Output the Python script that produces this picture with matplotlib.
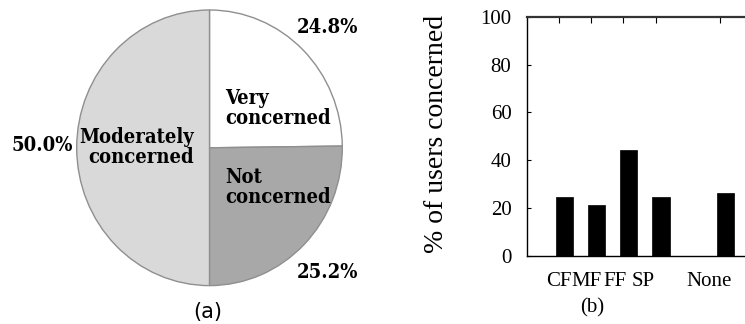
import matplotlib
matplotlib.use("Agg")
import matplotlib.pyplot as plt

# (a) concern level shares
concern_labels = ["Very\nconcerned", "Not\nconcerned", "Moderately\nconcerned"]
concern_shares = [24.8, 25.2, 50.0]
concern_colors = ["#ffffff", "#a8a8a8", "#d9d9d9"]

# (b) percentage of users concerned per category
categories = ["CF", "MF", "FF", "SP", "None"]
concerned_pct = [24.5, 21.3, 44.1, 24.5, 26.2]
category_pos = [0, 1, 2, 3, 5]

W, H = 745, 324
fig = plt.figure(figsize=(W / 100, H / 100), dpi=100)

# ---------- pie ----------
cx, cy, rx, ry = 209.5, 147.8, 132.8, 137.8
axp = fig.add_axes([(cx - rx) / W, (H - cy - ry) / H, 2 * rx / W, 2 * ry / H])
axp.pie(concern_shares, colors=concern_colors, startangle=90, counterclock=False,
        wedgeprops=dict(edgecolor="#8f8f8f", linewidth=1.0))
axp.set_aspect("auto")
axp.set_xlim(-1, 1)
axp.set_ylim(-1, 1)
axp.set_axis_off()

pie_font = dict(family="DejaVu Serif", weight="bold", stretch="condensed",
                fontsize=14.5)
axp.text(0.117, 0.289, concern_labels[0], ha="left", va="center",
         multialignment="left", linespacing=1.05, **pie_font)
axp.text(0.117, -0.284, concern_labels[1], ha="left", va="center",
         multialignment="left", linespacing=1.05, **pie_font)
axp.text(-0.114, 0.006, concern_labels[2], ha="right", va="center",
         multialignment="right", linespacing=1.05, **pie_font)

pct_pos = [(0.892, 0.879), (0.885, -0.899), (-1.257, 0.02)]
for (px, py), share in zip(pct_pos, concern_shares):
    axp.text(px, py, f"{share:.1f}%", ha="center", va="center",
             clip_on=False, **pie_font)

fig.text(208 / W, 1 - 312 / H, "(a)", ha="center", va="center",
         family="DejaVu Sans", fontsize=15)

# ---------- bars ----------
serif = "Liberation Serif"
left_px, right_px = 526.7, 752.1
bottom_px, top_px = 256.0, 16.7
axb = fig.add_axes([left_px / W, (H - bottom_px) / H,
                    (right_px - left_px) / W, (bottom_px - top_px) / H])
bar_offset = 0.165
axb.bar([p + bar_offset for p in category_pos], concerned_pct, width=0.54,
        color="black", edgecolor="black", linewidth=0.5)
axb.set_xlim(-1, 6)
axb.set_ylim(0, 100)

for side in ["top", "bottom", "left", "right"]:
    axb.spines[side].set_color("black")
    axb.spines[side].set_linewidth(1.0)
axb.spines["top"].set_linewidth(1.6)
axb.spines["top"].set_color("#333333")

axb.set_yticks([0, 20, 40, 60, 80, 100])
axb.tick_params(axis="y", direction="in", length=3, width=0.8, pad=11,
                labelsize=15)
for lab in axb.get_yticklabels():
    lab.set_family(serif)

# category ticks: marks on the top edge, labels below the bars
axb.set_xticks(category_pos)
axb.set_xticklabels([])
axb.tick_params(axis="x", bottom=False, top=True, direction="in",
                length=4, width=0.8)
label_x = [-0.01, 0.86, 1.74, 2.61, 4.67]
for lx, name in zip(label_x, categories):
    axb.text(lx, -10.5, name, ha="center", va="center", family=serif,
             fontsize=15, transform=axb.transData, clip_on=False)

fig.text(436.7 / W, 1 - 134 / H, "% of users concerned", rotation=90,
         ha="center", va="center", family=serif, fontsize=20)
fig.text(592.5 / W, 1 - 308 / H, "(b)", ha="center", va="center",
         family=serif, fontsize=15)

fig.savefig("out.png", dpi=100)
